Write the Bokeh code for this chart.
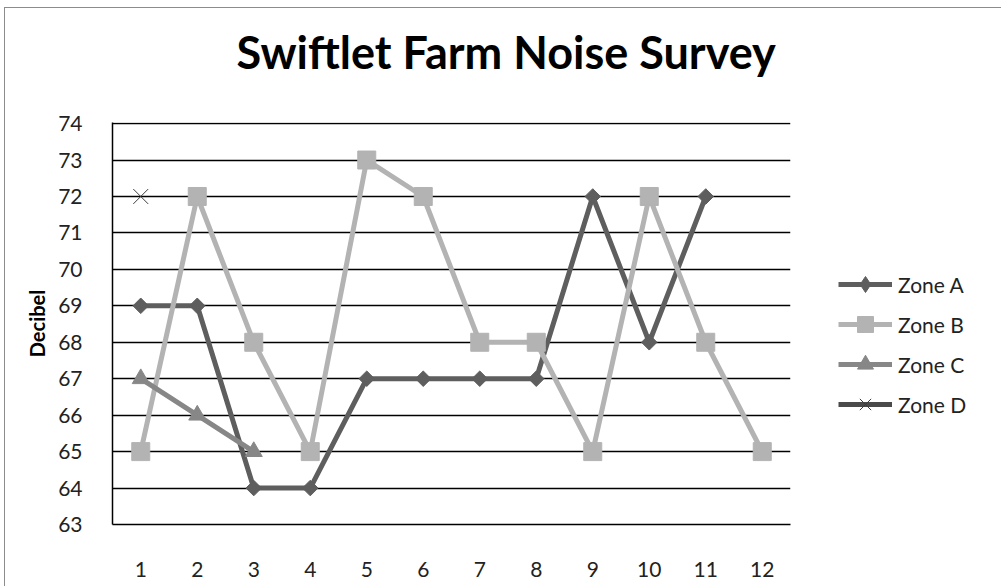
from bokeh.plotting import figure
from bokeh.models import Range1d, FixedTicker, Legend, LegendItem, Title
from bokeh.embed import file_html
from bokeh.resources import INLINE
import numpy as np

nan = float("nan")

# survey points 1..12
points = list(range(1, 13))
zone_a = [69, 69, 64, 64, 67, 67, 67, 67, 72, 68, 72, nan]
zone_b = [65, 72, 68, 65, 73, 72, 68, 68, 65, 72, 68, 65]
zone_c = [67, 66, 65, nan, nan, nan, nan, nan, nan, nan, nan, nan]
zone_d = [72, nan, nan, nan, nan, nan, nan, nan, nan, nan, nan, nan]
y_ticks = list(range(63, 75))

FONT = "Lato"

p = figure(
    frame_width=678, frame_height=402,
    x_range=Range1d(0.5, 12.5), y_range=Range1d(63, 74.03),
    output_backend="svg", toolbar_location=None,
    min_border_left=107, min_border_right=211,
    min_border_top=114, min_border_bottom=62,
)
p.styles = {
    "margin-left": "4px", "margin-top": "7px",
    "border-left": "1px solid #8c8c8c", "border-top": "1px solid #8c8c8c",
}

p.title.text = "Swiftlet Farm Noise Survey"
p.title.text_font = FONT
p.title.text_font_size = "45px"
p.title.text_font_style = "bold"
p.title.text_color = "#000000"
p.title.align = "left"
p.title.offset = 124
p.title.standoff = 0
# blank band between the heading and the plot frame
p.add_layout(Title(text=" ", text_font_size="2px", standoff=40), "above")

p.outline_line_color = None
p.background_fill_color = "white"
p.border_fill_color = "white"

# grid
p.xgrid.grid_line_color = None
p.ygrid.ticker = FixedTicker(ticks=y_ticks)
p.ygrid.grid_line_color = "#000000"
p.ygrid.grid_line_width = 1.5

# axes
p.yaxis.ticker = FixedTicker(ticks=y_ticks)
p.xaxis.ticker = FixedTicker(ticks=points)
for ax in (p.xaxis[0], p.yaxis[0]):
    ax.major_tick_line_color = None
    ax.minor_tick_line_color = None
    ax.major_label_text_font = FONT
    ax.major_label_text_font_size = "21px"
    ax.major_label_text_color = "#222222"
p.xaxis.axis_line_color = "#000000"
p.xaxis.axis_line_width = 1.5
p.yaxis.axis_line_color = "#000000"
p.yaxis.axis_line_width = 1.5
p.xaxis.major_label_standoff = 31
p.yaxis.major_label_standoff = 24
p.yaxis.axis_label = "Decibel"
p.yaxis.axis_label_text_font = FONT
p.yaxis.axis_label_text_font_size = "20px"
p.yaxis.axis_label_text_font_style = "bold"
p.yaxis.axis_label_text_color = "#000000"
p.yaxis.axis_label_standoff = 6

COL_A = "#5e5e5e"
COL_B = "#b3b3b3"
COL_C = "#878787"
COL_D = "#4a4a4a"

la = p.line(points, zone_a, line_color=COL_A, line_width=5)
sa = p.scatter(points, zone_a, marker="square", angle=np.pi / 4, size=11,
               fill_color=COL_A, line_color=COL_A)
lb = p.line(points, zone_b, line_color=COL_B, line_width=5)
sb = p.scatter(points, zone_b, marker="square", size=18,
               fill_color=COL_B, line_color=COL_B)
lc = p.line(points, zone_c, line_color=COL_C, line_width=5)
sc = p.scatter(points, zone_c, marker="triangle", size=17,
               fill_color=COL_C, line_color=COL_C)
ld = p.line(points, zone_d, line_color=COL_D, line_width=5)
sd = p.scatter(points, zone_d, marker="x", size=21,
               line_color="#3c3c3c", line_width=1)
# legend key for Zone A: a narrower diamond than the plotted one
ka = p.scatter([nan], [nan], marker="diamond", fill_color=COL_A, line_color=COL_A)

legend = Legend(
    items=[
        LegendItem(label="Zone A", renderers=[la, ka]),
        LegendItem(label="Zone B", renderers=[lb, sb]),
        LegendItem(label="Zone C", renderers=[lc, sc]),
        LegendItem(label="Zone D", renderers=[ld, sd]),
    ],
    location=(48, 100),
    glyph_width=54, glyph_height=40, label_height=20,
    label_standoff=6, spacing=0, padding=0, margin=0,
    label_text_font=FONT, label_text_font_size="21px",
    label_text_color="#222222",
    border_line_color=None, background_fill_alpha=0,
)
p.add_layout(legend, "right")

open("out.html", "w").write(file_html(p, INLINE))
